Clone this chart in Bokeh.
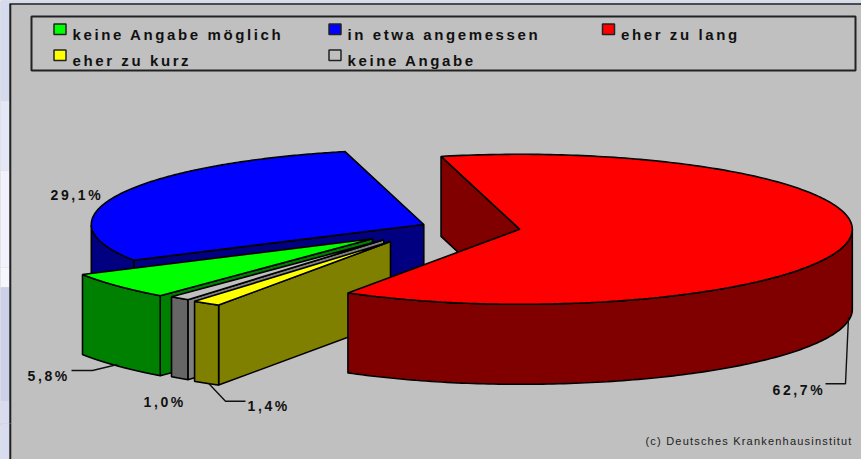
import numpy as np
from bokeh.embed import file_html
from bokeh.resources import INLINE
from bokeh.plotting import figure
from bokeh.layouts import column
from bokeh.models import Range1d
from bokeh.core.properties import value

categories = ["in etwa angemessen", "keine Angabe möglich", "keine Angabe", "eher zu kurz", "eher zu lang"]
shares = [29.1, 5.8, 1.0, 1.4, 62.7]
share_labels = ["29,1%", "5,8%", "1,0%", "1,4%", "62,7%"]
legend_order = ["keine Angabe möglich", "in etwa angemessen", "eher zu lang", "eher zu kurz", "keine Angabe"]
credit = "(c) Deutsches Krankenhausinstitut"

top_colors = ["#0000ff", "#00ff00", "#c0c0c0", "#ffff00", "#ff0000"]
wall_colors = ["#000080", "#008000", "#666666", "#808000", "#800000"]
cut_colors = ["#000080", "#008000", "#808080", "#808000", "#800000"]

# layout (pixel space of the 861x459 picture)
apex_x = [423.3, 372, 383.3, 390, 519.3]
apex_y = [224, 238.3, 239.3, 241, 228.8]
RX, RY, DEPTH, START = 332.5, 75, 80, 103.7
INK = "#111111"
PANEL = "#c0c0c0"
SPLIT_Y = 425
W, H = 861, 459
band_edges = [0, 100, 170, 267, 287, 400, 459]
band_colors = ["#d6daef", "#e4e7f5", "#f1f2fb", "#f6f6fd", "#ccd0e8", "#d8dcf0"]


def make(y0, y1, spacing, margin):
    fig = figure(width=W, height=y1 - y0, x_range=Range1d(0, W), y_range=Range1d(y1, y0),
                 output_backend="svg", toolbar_location=None, min_border=0, margin=margin,
                 background_fill_color=PANEL, border_fill_color=PANEL, outline_line_color=None,
                 x_axis_type=None, y_axis_type=None)
    fig.grid.visible = False
    fig.styles = {"letter-spacing": spacing}
    fig.quad(left=0, right=9, top=band_edges[:-1], bottom=band_edges[1:], fill_color=band_colors,
             line_color=None)
    fig.line([9.8, 9.8], [3.5, H], line_color="#222222", line_width=2)
    return fig


p = make(0, SPLIT_Y, "2.6px", (0, 0, 0, 0))
p.quad(left=0, right=W, top=0, bottom=3, fill_color=band_colors[0], line_color=None)
p.line([9, W], [3.5, 3.5], line_color="#222222", line_width=1.6)

# legend frame
p.quad(left=[31], right=[855], top=[16], bottom=[70], fill_color=None, line_color="#222222", line_width=2)
legend_x = [53.5, 328.5, 602, 53.5, 328.5]
legend_y = [23.5, 23.5, 23.5, 49.5, 49.5]
for name, lx, ly in zip(legend_order, legend_x, legend_y):
    c = top_colors[categories.index(name)]
    p.quad(left=[lx], right=[lx + 12], top=[ly], bottom=[ly + 10.5], fill_color=c, line_color="#222222", line_width=1.5)
    p.text([lx + 18.5], [ly + 10.5], text=[name], text_font=value("Liberation Sans"), text_font_style="bold",
           text_font_size="15px", text_color=INK, text_baseline="alphabetic")

# pie: painted back to front, every angle comes from the shares
total = sum(shares)
a0 = START
for i in range(len(shares)):
    a1 = a0 + shares[i] / total * 360
    cx, cy = apex_x[i], apex_y[i]
    t = np.radians(np.linspace(a0, a1, 240))
    # slight perspective: the lower left of each rim is pulled in
    squeeze = np.where(np.cos(t) < 0, 1 - 0.035 * np.minimum(np.sin(t), 0) ** 2, 1)
    rim_x = cx + RX * np.cos(t) * squeeze
    rim_y = cy - RY * np.sin(t)
    ex, ey = rim_x[-1], rim_y[-1]
    p.patch([cx, ex, ex, cx], [cy, ey, ey + DEPTH, cy + DEPTH], fill_color=cut_colors[i],
            line_color="black", line_width=1.6)
    front = np.sin(t) <= 0
    if front.any():
        fx, fy = rim_x[front], rim_y[front]
        p.patch(np.r_[fx, fx[::-1]], np.r_[fy, fy[::-1] + DEPTH], fill_color=wall_colors[i],
                line_color="black", line_width=1.6)
    p.patch(np.r_[cx, rim_x], np.r_[cy, rim_y], fill_color=top_colors[i], line_color="black", line_width=1.6)
    a0 = a1

# value labels
label_x = [50, 27, 143, 247, 772]
label_y = [194, 375, 401, 405, 389]
p.text(label_x, label_y, text=share_labels, text_font=value("Liberation Sans"), text_font_style="bold",
       text_font_size="14px", text_color=INK, text_baseline="alphabetic")

# leader lines
p.line([71, 92, 117], [370, 370, 364], line_color="#111111", line_width=1.4)
p.line([245, 225, 208], [400.7, 400.7, 382.7], line_color="#111111", line_width=1.4)
p.line([825, 845, 848], [383.3, 383.3, 316.7], line_color="#111111", line_width=1.4)

q = make(SPLIT_Y - 2, H, "1.2px", (-2, 0, 0, 0))
q.text([645], [440], text=[credit], text_font=value("Liberation Sans"), text_font_size="11px",
       text_color="#222222", text_baseline="alphabetic")

layout = column(p, q, spacing=0)
open("out.html", "w").write(file_html(layout, INLINE))
